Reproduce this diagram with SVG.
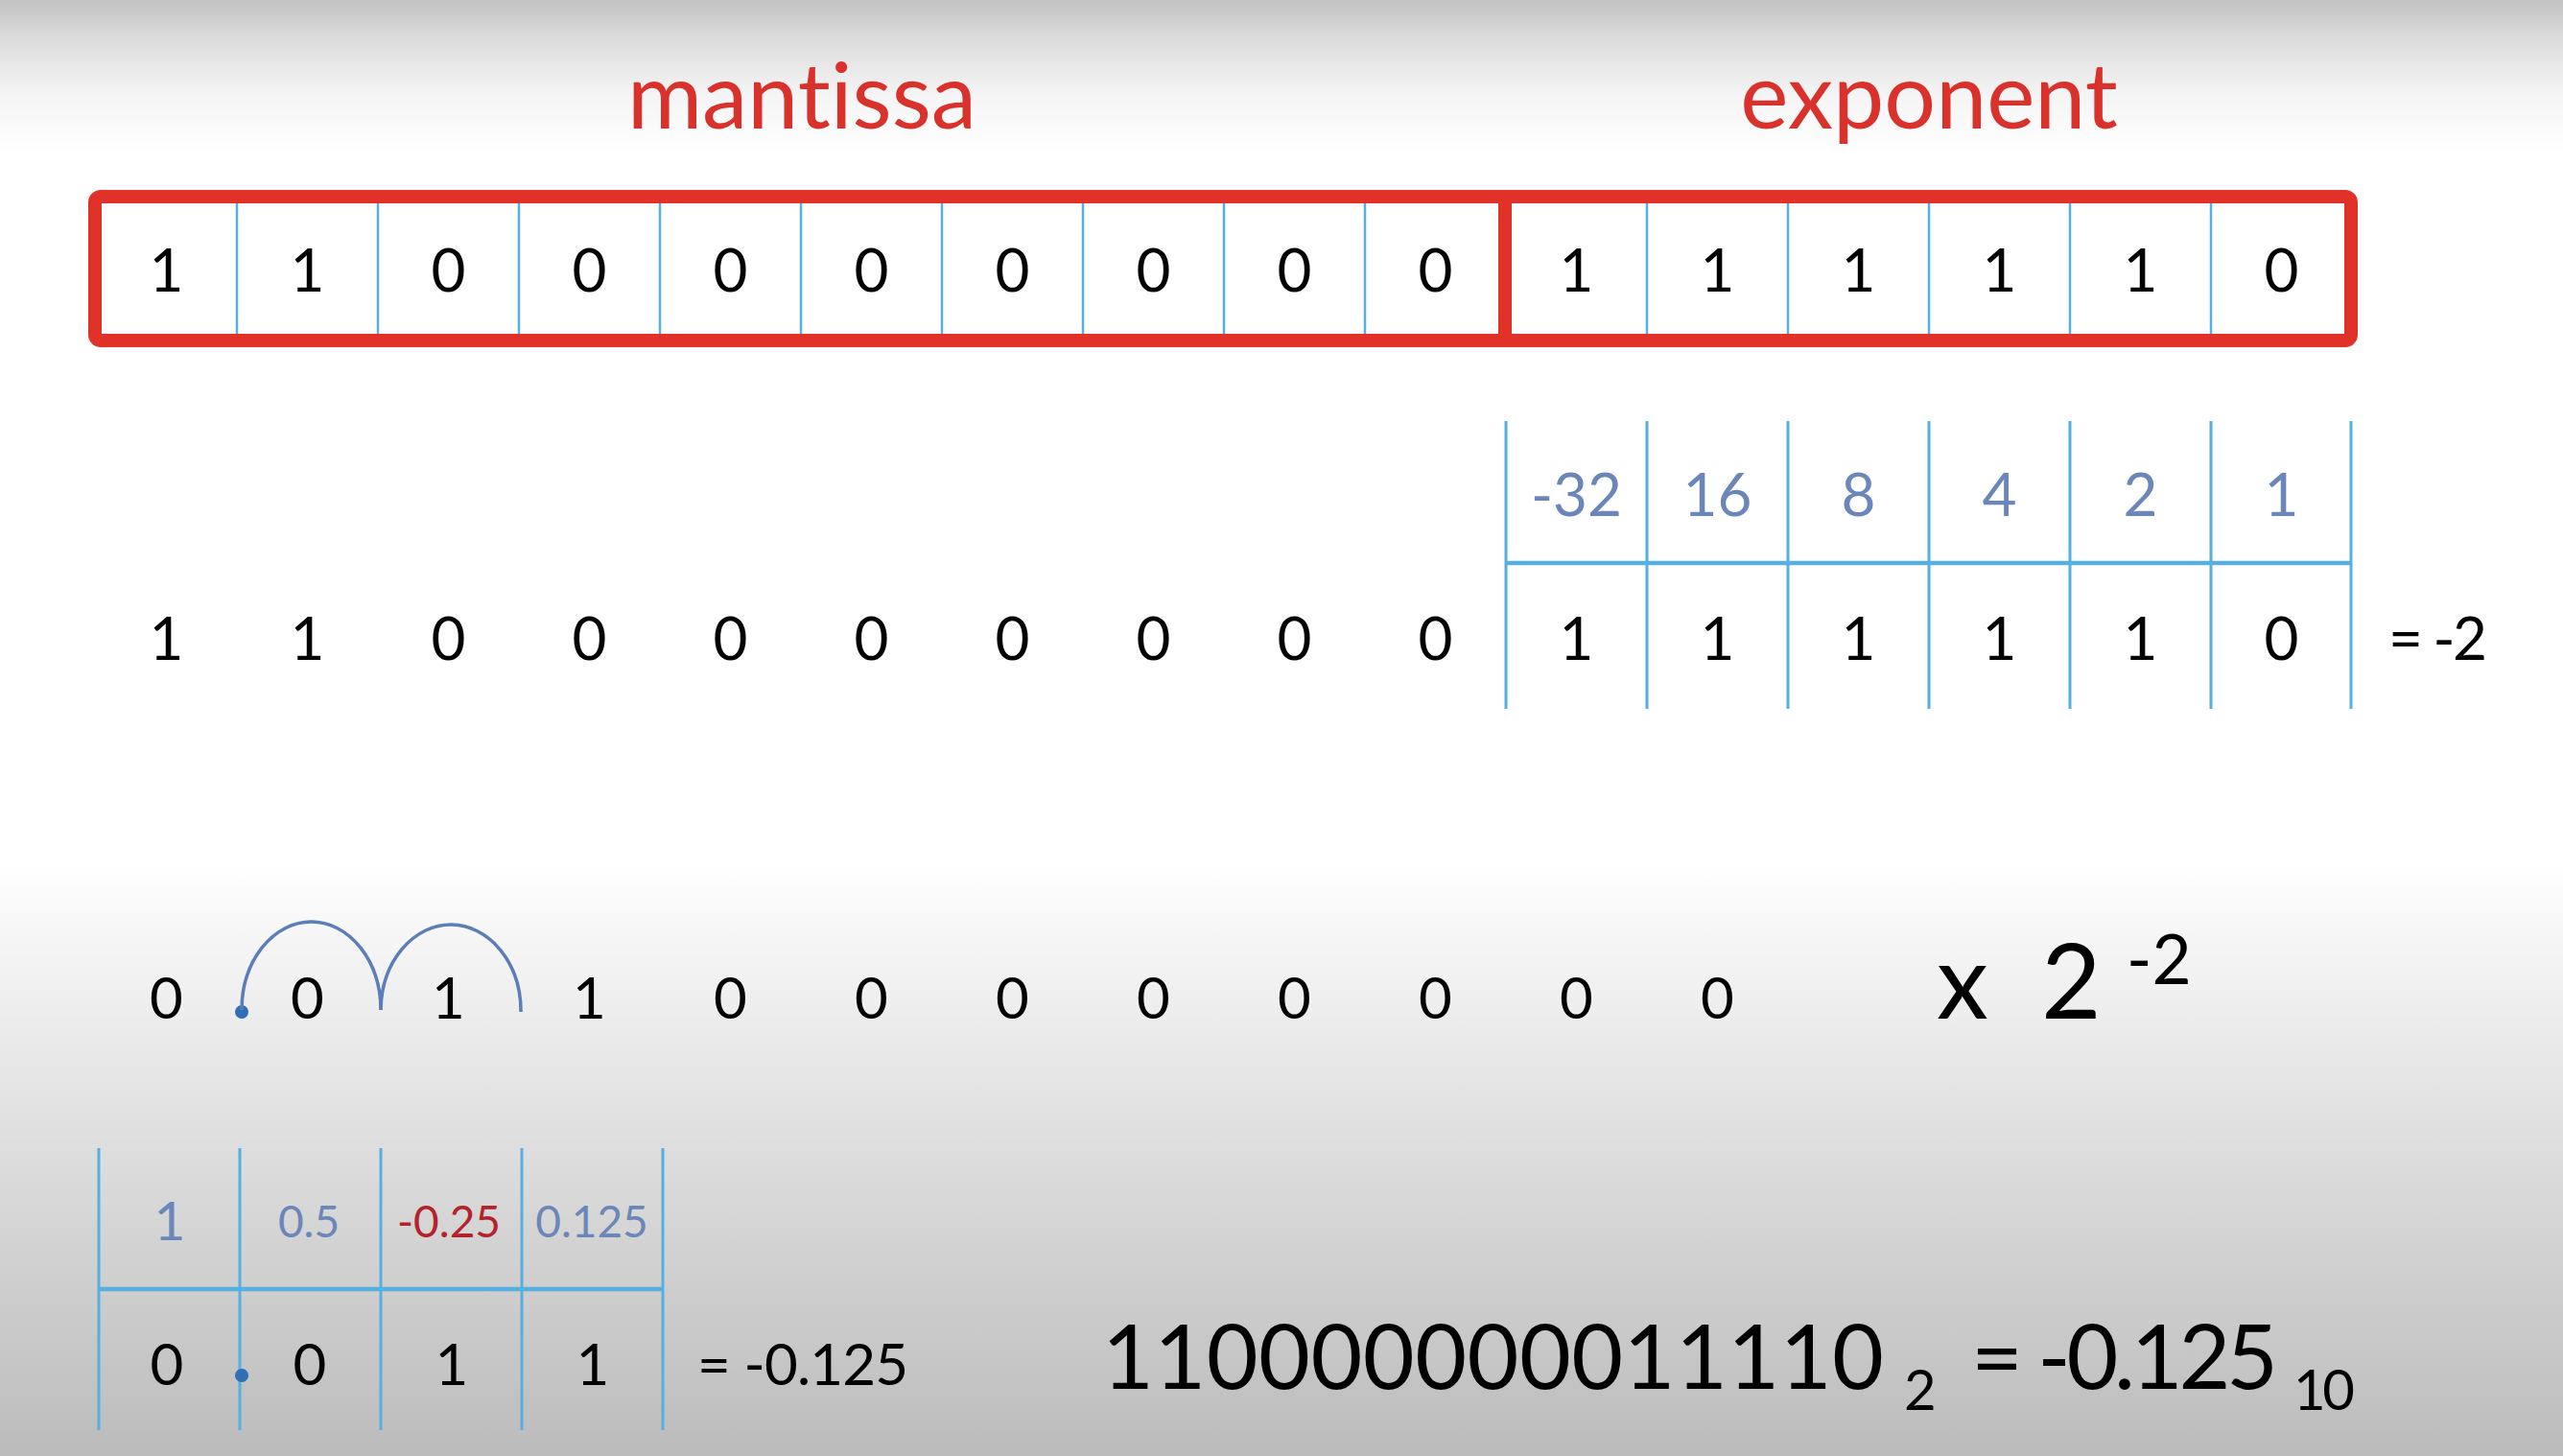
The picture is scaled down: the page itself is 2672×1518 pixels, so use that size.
<svg xmlns="http://www.w3.org/2000/svg" width="2672" height="1518" viewBox="0 0 2672 1518">
<defs>
<linearGradient id="bg" x1="0" y1="0" x2="0" y2="1518" gradientUnits="userSpaceOnUse">
<stop offset="0" stop-color="#c2c2c2"/>
<stop offset="0.026" stop-color="#dcdcdc"/>
<stop offset="0.066" stop-color="#f5f5f5"/>
<stop offset="0.105" stop-color="#ffffff"/>
<stop offset="0.59" stop-color="#ffffff"/>
<stop offset="0.72" stop-color="#e9e9e9"/>
<stop offset="1" stop-color="#bbbbbb"/>
</linearGradient>
</defs>
<style>
text{font-family:Lato,"Open Sans","Liberation Sans",sans-serif;font-variant-ligatures:none;font-feature-settings:"liga" 0,"clig" 0;}
.d{font-size:62px;fill:#000;text-anchor:middle;}
.d3{font-size:60px;fill:#000;text-anchor:middle;}
.hdr{font-size:62px;fill:#6b86b8;text-anchor:middle;}
.title{font-size:95px;fill:#d9312b;text-anchor:middle;}
.grid{stroke:#55b0e0;stroke-width:3;fill:none;}
.thin{stroke:#55b0e0;stroke-width:2.5;fill:none;}
.hl{stroke:#55b0e0;stroke-width:4.5;fill:none;}
.red{stroke:#e03228;stroke-width:14;fill:none;}
.arc{stroke:#5b7db8;stroke-width:3.5;fill:none;}
.dot{fill:#2e6fb5;}
.big{font-size:93px;fill:#000;}
.sub{font-size:58px;fill:#000;}
</style>
<rect x="0" y="0" width="2672" height="1518" fill="url(#bg)"/>

<g id="label-mantissa"><text class="title" x="836" y="134">mantissa</text></g>
<g id="label-exponent"><text class="title" x="2011" y="134">exponent</text></g>

<g id="bit-register">
<rect x="99" y="205" width="2352" height="150" rx="6" fill="#ffffff"/>
<g class="thin">
<line x1="247" y1="212" x2="247" y2="348"/>
<line x1="394" y1="212" x2="394" y2="348"/>
<line x1="541" y1="212" x2="541" y2="348"/>
<line x1="688" y1="212" x2="688" y2="348"/>
<line x1="835" y1="212" x2="835" y2="348"/>
<line x1="982" y1="212" x2="982" y2="348"/>
<line x1="1129" y1="212" x2="1129" y2="348"/>
<line x1="1276" y1="212" x2="1276" y2="348"/>
<line x1="1423" y1="212" x2="1423" y2="348"/>
<line x1="1717" y1="212" x2="1717" y2="348"/>
<line x1="1864" y1="212" x2="1864" y2="348"/>
<line x1="2011" y1="212" x2="2011" y2="348"/>
<line x1="2158" y1="212" x2="2158" y2="348"/>
<line x1="2305" y1="212" x2="2305" y2="348"/>
</g>
<rect class="red" x="99" y="205" width="2352" height="150" rx="6"/>
<line class="red" x1="1569" y1="205" x2="1569" y2="355"/>
<text class="d" x="173.5" y="304">1</text>
<text class="d" x="320.5" y="304">1</text>
<text class="d" x="467.5" y="304">0</text>
<text class="d" x="614.5" y="304">0</text>
<text class="d" x="761.5" y="304">0</text>
<text class="d" x="908.5" y="304">0</text>
<text class="d" x="1055.5" y="304">0</text>
<text class="d" x="1202.5" y="304">0</text>
<text class="d" x="1349.5" y="304">0</text>
<text class="d" x="1496.5" y="304">0</text>
<text class="d" x="1643.5" y="304">1</text>
<text class="d" x="1790.5" y="304">1</text>
<text class="d" x="1937.5" y="304">1</text>
<text class="d" x="2084.5" y="304">1</text>
<text class="d" x="2231.5" y="304">1</text>
<text class="d" x="2378.5" y="304">0</text>
</g>

<g id="mantissa-row">
<text class="d" x="173.5" y="688">1</text>
<text class="d" x="320.5" y="688">1</text>
<text class="d" x="467.5" y="688">0</text>
<text class="d" x="614.5" y="688">0</text>
<text class="d" x="761.5" y="688">0</text>
<text class="d" x="908.5" y="688">0</text>
<text class="d" x="1055.5" y="688">0</text>
<text class="d" x="1202.5" y="688">0</text>
<text class="d" x="1349.5" y="688">0</text>
<text class="d" x="1496.5" y="688">0</text>
</g>

<g id="exponent-table">
<g class="grid">
<line x1="1570" y1="439" x2="1570" y2="739"/>
<line x1="1717" y1="439" x2="1717" y2="739"/>
<line x1="1864" y1="439" x2="1864" y2="739"/>
<line x1="2011" y1="439" x2="2011" y2="739"/>
<line x1="2158" y1="439" x2="2158" y2="739"/>
<line x1="2305" y1="439" x2="2305" y2="739"/>
<line x1="2451" y1="439" x2="2451" y2="739"/>
</g>
<line class="hl" x1="1570" y1="587" x2="2451" y2="587"/>
<text class="hdr" x="1643.5" y="538">-32</text>
<text class="hdr" x="1790.5" y="538">16</text>
<text class="hdr" x="1937.5" y="538">8</text>
<text class="hdr" x="2084.5" y="538">4</text>
<text class="hdr" x="2231.5" y="538">2</text>
<text class="hdr" x="2378.5" y="538">1</text>
<text class="d" x="1643.5" y="688">1</text>
<text class="d" x="1790.5" y="688">1</text>
<text class="d" x="1937.5" y="688">1</text>
<text class="d" x="2084.5" y="688">1</text>
<text class="d" x="2231.5" y="688">1</text>
<text class="d" x="2378.5" y="688">0</text>
<text x="2490" y="688" font-size="62" fill="#000" textLength="103" lengthAdjust="spacing">= -2</text>
</g>

<g id="shifted-row">
<text class="d3" x="173.5" y="1062">0</text>
<text class="d3" x="320.5" y="1062">0</text>
<text class="d3" x="467.5" y="1062">1</text>
<text class="d3" x="614.5" y="1062">1</text>
<text class="d3" x="761.5" y="1062">0</text>
<text class="d3" x="908.5" y="1062">0</text>
<text class="d3" x="1055.5" y="1062">0</text>
<text class="d3" x="1202.5" y="1062">0</text>
<text class="d3" x="1349.5" y="1062">0</text>
<text class="d3" x="1496.5" y="1062">0</text>
<text class="d3" x="1643.5" y="1062">0</text>
<text class="d3" x="1790.5" y="1062">0</text>
<circle class="dot" cx="252" cy="1055" r="7"/>
</g>

<g id="connectors">
<path class="arc" d="M252,1053 A72.5,92 0 0 1 397,1053"/>
<path class="arc" d="M397,1053 A73,90 0 0 1 543,1055"/>
</g>

<g id="multiplier">
<text x="2019" y="1062" font-size="108" fill="#000">x</text>
<text x="2128" y="1062" font-size="108" fill="#000">2</text>
<text x="2217" y="1026" font-size="71" fill="#000">-2</text>
</g>

<g id="fraction-table">
<g class="grid">
<line x1="103" y1="1197" x2="103" y2="1491"/>
<line x1="250" y1="1197" x2="250" y2="1491"/>
<line x1="397" y1="1197" x2="397" y2="1491"/>
<line x1="544" y1="1197" x2="544" y2="1491"/>
<line x1="691" y1="1197" x2="691" y2="1491"/>
</g>
<line class="hl" x1="103" y1="1344" x2="691" y2="1344"/>
<text x="177" y="1293" font-size="57" fill="#6b86b8" text-anchor="middle">1</text>
<text x="322" y="1290" font-size="46" fill="#6b86b8" text-anchor="middle">0.5</text>
<text x="468" y="1290" font-size="46" fill="#b3232a" text-anchor="middle">-0.25</text>
<text x="617" y="1290" font-size="46" fill="#6b86b8" text-anchor="middle">0.125</text>
<text class="d3" x="174" y="1444">0</text>
<text class="d3" x="323" y="1444">0</text>
<text class="d3" x="471" y="1444">1</text>
<text class="d3" x="618" y="1444">1</text>
<circle class="dot" cx="252" cy="1434" r="7"/>
<text x="727" y="1444" font-size="60" fill="#000" textLength="220" lengthAdjust="spacing">= -0.125</text>
</g>

<g id="result">
<text class="big" x="1149" y="1448" textLength="815" lengthAdjust="spacing">110000000011110</text>
<text class="sub" x="1985" y="1470">2</text>
<text class="big" x="2055" y="1448" textLength="320" lengthAdjust="spacing">= -0.125</text>
<text class="sub" x="2391" y="1470" textLength="64" lengthAdjust="spacing">10</text>
</g>
</svg>
